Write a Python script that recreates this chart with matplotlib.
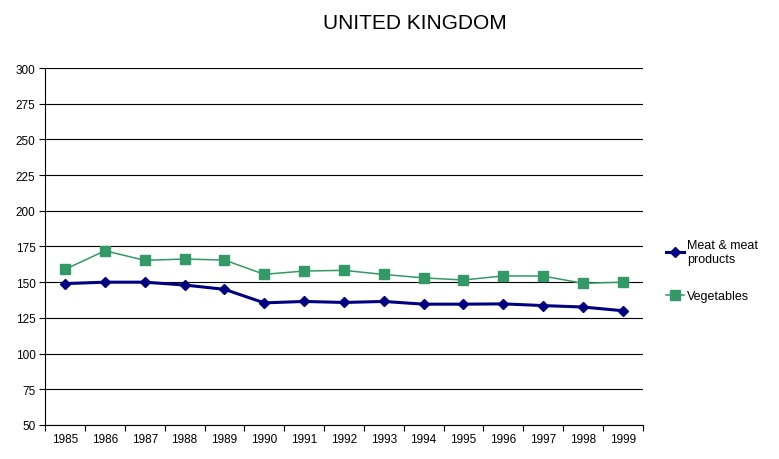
import matplotlib.pyplot as plt
import numpy as np

plt.rcParams['font.family'] = ['Liberation Sans', 'DejaVu Sans']

# Data
years = ['1985', '1986', '1987', '1988', '1989', '1990', '1991', '1992',
         '1993', '1994', '1995', '1996', '1997', '1998', '1999']
meat = [149, 150, 150, 148, 145, 135.5, 136.5, 135.8, 136.5, 134.6,
        134.6, 134.8, 133.6, 132.6, 130]
vegetables = [159, 172, 165.3, 166.2, 165.5, 155.5, 157.8, 158.3, 155.4,
              153, 151.5, 154.4, 154.3, 149.2, 150]

fig = plt.figure(figsize=(7.79, 4.60), dpi=100)
ax = fig.add_axes([0.058, 0.074, 0.767, 0.776])

x = np.arange(len(years))
ax.plot(x, meat, color='#000080', linewidth=2.2, marker='D', markersize=5.5,
        label='Meat & meat\nproducts')
ax.plot(x, vegetables, color='#339966', linewidth=1.1, marker='s', markersize=7,
        label='Vegetables')

ax.set_ylim(50, 300)
ax.set_yticks(np.arange(50, 301, 25))
ax.set_xlim(-0.5, len(years) - 0.5)
ax.set_xticks(np.arange(-0.5, len(years), 1.0))
ax.set_xticklabels([])
ax.set_xticks(x, minor=True)
ax.set_xticklabels(years, minor=True)
ax.tick_params(axis='x', which='minor', length=0, pad=6, labelsize=8.5)
ax.tick_params(axis='x', which='major', length=4, direction='out', color='black')
ax.tick_params(axis='y', length=4, direction='out', labelsize=8.5, pad=3)

ax.grid(True, axis='y', color='black', linewidth=0.8)
ax.set_axisbelow(True)
for s in ['top', 'right']:
    ax.spines[s].set_visible(False)

fig.suptitle('UNITED KINGDOM', x=0.533, y=0.97, fontsize=15)

fig.legend(loc='upper left', bbox_to_anchor=(0.84, 0.502), frameon=False,
           fontsize=9, labelspacing=2.0, handlelength=1.5, handletextpad=0.2)

plt.savefig('out.png', dpi=100)
